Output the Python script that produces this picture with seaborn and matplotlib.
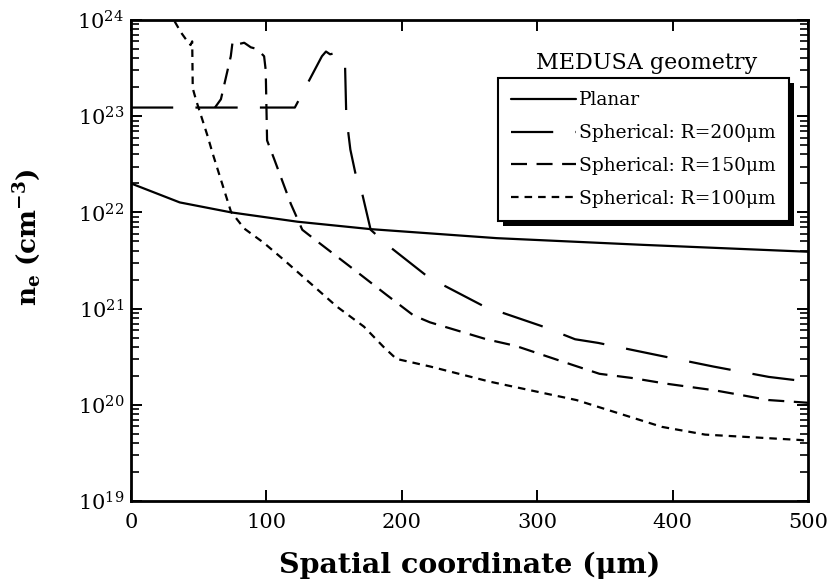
import numpy as np
import pandas as pd
import matplotlib
matplotlib.use('Agg')
import matplotlib.pyplot as plt
import seaborn as sns
from matplotlib.patches import Rectangle
from matplotlib.transforms import IdentityTransform
from matplotlib.ticker import FixedLocator, NullLocator, FuncFormatter

# ---- data ----
planar_x = [0, 36, 74, 123, 177, 270, 378, 500]
planar_ne = [2.0e22, 1.27e22, 1.0e22, 8.0e21, 6.7e21, 5.4e21, 4.6e21, 3.9e21]

r200_x = [0, 121, 141, 144, 147, 150, 153, 156, 158, 159, 162, 165.6, 170.6, 177,
          191, 220, 261, 303, 328, 345, 388, 430, 471, 500]
r200_ne = [1.23e23, 1.23e23, 4.2e23, 4.7e23, 4.4e23, 4.5e23, 4.1e23, 4.0e23, 3.8e23,
           1.0e23, 4.5e22, 2.6e22, 1.6e22, 6.6e21, 4.4e21, 2.1e21, 1.05e21, 6.6e20,
           4.8e20, 4.4e20, 3.3e20, 2.5e20, 1.95e20, 1.74e20]

r150_x = [62, 66.4, 73.7, 75, 79, 83.6, 86, 88.5, 93, 98.3, 99.5, 100.5, 105.7, 118,
          126.5, 137.5, 167, 189, 208.6, 220.8, 262.5, 284, 304, 326, 346, 370, 395,
          431.6, 451, 471, 500]
r150_ne = [1.23e23, 1.5e23, 4.2e23, 5.9e23, 5.6e23, 5.8e23, 5.5e23, 5.2e23, 5.0e23,
           4.2e23, 3.0e23, 5.6e22, 3.6e22, 1.23e22, 6.6e21, 5.0e21, 2.4e21, 1.38e21,
           8.5e20, 7.2e20, 4.8e20, 4.1e20, 3.3e20, 2.6e20, 2.1e20, 1.9e20, 1.66e20,
           1.41e20, 1.26e20, 1.12e20, 1.05e20]

r100_x = [28, 32, 37, 42, 44, 45.2, 45.6, 48, 56.6, 60.3, 73.8, 83.6, 98.3, 113, 132,
          152, 172, 186.5, 196, 221, 265, 329, 392, 424, 495, 500]
r100_ne = [1.3e24, 9.8e23, 7.4e23, 5.9e23, 5.5e23, 6.0e23, 1.95e23, 1.48e23, 6.2e22,
           4.1e22, 1.02e22, 6.8e21, 4.8e21, 3.2e21, 1.86e21, 1.05e21, 6.5e20, 4.0e20,
           3.0e20, 2.5e20, 1.74e20, 1.12e20, 5.9e19, 4.9e19, 4.3e19, 4.2e19]

series_names = ['Planar', 'Spherical: R=200μm', 'Spherical: R=150μm', 'Spherical: R=100μm']
x_ticks = [0, 100, 200, 300, 400, 500]
y_decades = [19, 20, 21, 22, 23, 24]

# ---- style ----
sns.set_theme(style='ticks')
plt.rcParams['font.family'] = ['DejaVu Serif']
plt.rcParams['mathtext.fontset'] = 'dejavuserif'
plt.rcParams['axes.edgecolor'] = 'black'
plt.rcParams['text.color'] = 'black'
plt.rcParams['axes.labelcolor'] = 'black'
plt.rcParams['xtick.color'] = 'black'
plt.rcParams['ytick.color'] = 'black'
plt.rcParams['legend.labelcolor'] = 'black'

fig = plt.figure(figsize=(8.31, 5.81), dpi=100)
ax_l, ax_r, ax_t, ax_b = 131, 808, 20, 501
ax = fig.add_axes([ax_l / 831, 1 - ax_b / 581, (ax_r - ax_l) / 831, (ax_b - ax_t) / 581])

frames = []
for name, xs, ys in zip(series_names, [planar_x, r200_x, r150_x, r100_x],
                        [planar_ne, r200_ne, r150_ne, r100_ne]):
    frames.append(pd.DataFrame({'x': xs, 'ne': ys, 'series': name}))
df = pd.concat(frames, ignore_index=True)

dashes = {series_names[0]: '', series_names[1]: (19, 10),
          series_names[2]: (7.2, 4.3), series_names[3]: (3.4, 2.7)}
sns.lineplot(data=df, x='x', y='ne', style='series', style_order=series_names,
             dashes=dashes, color='black', lw=1.6, estimator=None, sort=False,
             ax=ax, legend=True)

ax.set_yscale('log')
ax.set_xlim(0, 500)
ax.set_ylim(1e19, 1e24)

major_y = [10.0 ** d for d in y_decades]
minor_y = [m * 10.0 ** d for d in y_decades[:-1] for m in range(2, 10)]
ax.xaxis.set_major_locator(FixedLocator(x_ticks))
ax.xaxis.set_minor_locator(NullLocator())
ax.yaxis.set_major_locator(FixedLocator(major_y))
ax.yaxis.set_minor_locator(FixedLocator(minor_y))
ax.yaxis.set_major_formatter(FuncFormatter(lambda v, p: r'$\mathregular{10^{%d}}$' % round(np.log10(v))))
ax.yaxis.set_minor_formatter(FuncFormatter(lambda v, p: ''))
ax.tick_params(which='both', direction='in', top=True, right=True, left=True,
               bottom=True, color='black', labelsize=15, labelcolor='black')
ax.tick_params(which='major', length=8, width=1.4)
ax.tick_params(which='minor', length=5.5, width=1.2)
ax.tick_params(axis='x', which='major', pad=9)
ax.tick_params(axis='y', which='major', pad=5)
for s in ax.spines.values():
    s.set_linewidth(2.0)
    s.set_color('black')

ax.set_xlabel('Spatial coordinate (μm)', fontsize=20.5, fontweight='bold', color='black')
ax.set_ylabel(r'$\mathbf{n_e}$ $\mathbf{(cm^{-3})}$', fontsize=19, color='black')
ax.xaxis.set_label_coords(0.5, -0.106)
ax.yaxis.set_label_coords(-0.13, 0.549)

# legend
handles, labels = ax.get_legend_handles_labels()
if ax.get_legend():
    ax.get_legend().remove()
for h in handles:
    h.set_linewidth(1.6)
    h.set_color('black')
leg = ax.legend(handles, labels, loc='upper left', bbox_to_anchor=(0.542, 0.879),
                borderaxespad=0, fontsize=13.4, handlelength=3.5, handletextpad=0.15,
                labelspacing=0.8, borderpad=0.7, fancybox=False, framealpha=1,
                edgecolor='black', labelcolor='black')
leg.get_frame().set_linewidth(1.5)
leg.set_zorder(10)

ax.text(0.762, 0.91, 'MEDUSA geometry', transform=ax.transAxes, ha='center',
        va='center', fontsize=16, color='black')

fig.canvas.draw()
bb = leg.get_window_extent()
shadow = Rectangle((bb.x0 + 5, bb.y0 - 5), bb.width, bb.height, transform=IdentityTransform(),
                   facecolor='black', edgecolor='none', zorder=9.9, clip_on=False)
ax.add_artist(shadow)

fig.savefig('out.png', dpi=100)
